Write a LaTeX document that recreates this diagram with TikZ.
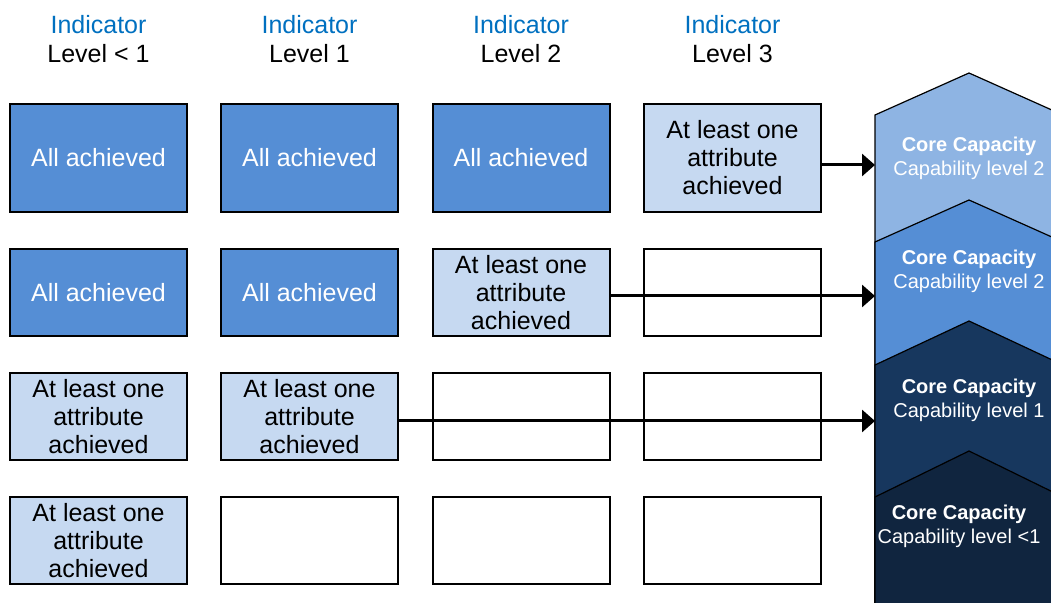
\documentclass[tikz,border=0pt]{standalone}
\usepackage{fontspec}
\setmainfont{Liberation Sans}
\usetikzlibrary{arrows.meta}
\definecolor{allblue}{HTML}{558ED5}
\definecolor{oneblue}{HTML}{C6D9F1}
\definecolor{headblue}{HTML}{0070C0}
\definecolor{capA}{HTML}{8EB4E3}
\definecolor{capB}{HTML}{558ED5}
\definecolor{capC}{HTML}{17375E}
\definecolor{capD}{HTML}{10253F}
\tikzset{
  cell/.style={draw=black,line width=1pt,minimum width=88.5pt,minimum height=43.5pt,
    inner sep=0pt,align=center,font=\fontsize{12.5}{14}\selectfont},
  tallcell/.style={cell,minimum height=54pt},
  allcell/.style={fill=allblue,text=white},
  onecell/.style={fill=oneblue,text=black},
  head/.style={inner sep=0pt,font=\fontsize{12.5}{14}\selectfont},
  captext/.style={inner sep=0pt,text=white,align=center,font=\fontsize{10}{12}\selectfont},
  chev/.style={draw=black,line width=0.6pt},
  link/.style={line width=1.5pt,-{Triangle[length=6.5pt,width=11pt]}}
}
\begin{document}
\begin{tikzpicture}[x=0.5pt,y=-0.5pt]
\clip (0,0) rectangle (1051,603);
% column heads
\node[head,text=headblue] (h1) at (98.5,25) {Indicator};
\node[head] (l1) at (98.5,54) {Level < 1};
\node[head,text=headblue] (h2) at (309.5,25) {Indicator};
\node[head] (l2) at (309.5,54) {Level 1};
\node[head,text=headblue] (h3) at (521,25) {Indicator};
\node[head] (l3) at (521,54) {Level 2};
\node[head,text=headblue] (h4) at (732.5,25) {Indicator};
\node[head] (l4) at (732.5,54) {Level 3};
% row 1
\node[tallcell,allcell] (b11) at (98.5,158) {All achieved};
\node[tallcell,allcell] (b12) at (309.5,158) {All achieved};
\node[tallcell,allcell] (b13) at (521,158) {All achieved};
\node[tallcell,onecell] (b14) at (732.5,158) {At least one\\attribute\\achieved};
% row 2
\node[cell,allcell] (b21) at (98.5,292.5) {All achieved};
\node[cell,allcell] (b22) at (309.5,292.5) {All achieved};
\node[cell,onecell] (b23) at (521,292.5) {At least one\\attribute\\achieved};
\node[cell] (b24) at (732.5,292.5) {};
% row 3
\node[cell,onecell] (b31) at (98.5,416.5) {At least one\\attribute\\achieved};
\node[cell,onecell] (b32) at (309.5,416.5) {At least one\\attribute\\achieved};
\node[cell] (b33) at (521,416.5) {};
\node[cell] (b34) at (732.5,416.5) {};
% row 4
\node[cell,onecell] (b41) at (98.5,540.5) {At least one\\attribute\\achieved};
\node[cell] (b42) at (309.5,540.5) {};
\node[cell] (b43) at (521,540.5) {};
\node[cell] (b44) at (732.5,540.5) {};
% capability chevrons
\filldraw[chev,fill=capA] (875,115) -- (969,73) -- (1063,115) -- (1063,610) -- (875,610) -- cycle;
\filldraw[chev,fill=capB] (875,242) -- (969,200) -- (1063,242) -- (1063,610) -- (875,610) -- cycle;
\filldraw[chev,fill=capC] (875,365) -- (969,321) -- (1063,365) -- (1063,610) -- (875,610) -- cycle;
\filldraw[chev,fill=capD] (875,497) -- (969,451) -- (1063,497) -- (1063,610) -- (875,610) -- cycle;
\node[captext] (c2) at (969,158) {\textbf{Core Capacity}\\Capability level 2};
\node[captext] (c2b) at (969,271) {\textbf{Core Capacity}\\Capability level 2};
\node[captext] (c1) at (969,400) {\textbf{Core Capacity}\\Capability level 1};
\node[captext] (c0) at (959,526) {\textbf{Core Capacity}\\Capability level <1};
\coordinate (in2) at (875,165);
\coordinate (in2b) at (875,296);
\coordinate (in1) at (875,421);
% links
\draw[link] ([yshift=-3.5pt]b14.east) -- (in2);
\draw[link] ([yshift=-1.75pt]b23.east) -- (in2b);
\draw[link] ([yshift=-2.25pt]b32.east) -- (in1);
\end{tikzpicture}
\end{document}
